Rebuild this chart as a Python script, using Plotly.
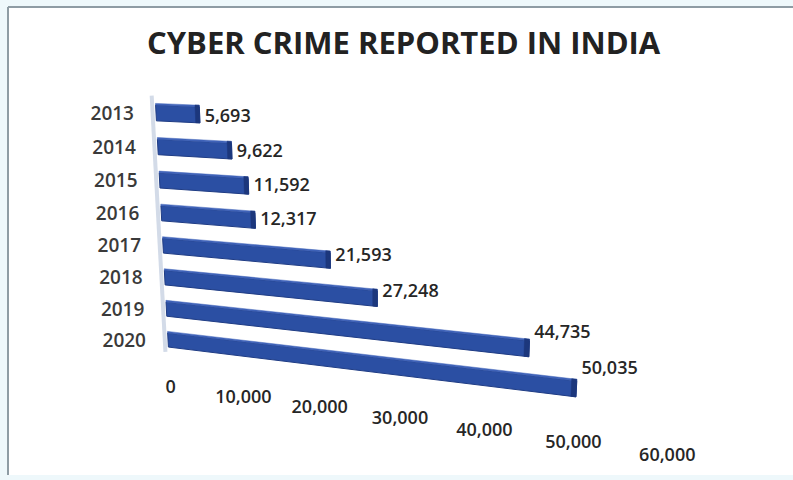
import numpy as np
import plotly.graph_objects as go

# ---------------- data ----------------
years = ["2013", "2014", "2015", "2016", "2017", "2018", "2019", "2020"]
cases = [5693, 9622, 11592, 12317, 21593, 27248, 44735, 50035]
tick_vals = [0, 10000, 20000, 30000, 40000, 50000, 60000]
tick_text = ["0", "10,000", "20,000", "30,000", "40,000", "50,000", "60,000"]
chart_title = "CYBER CRIME REPORTED IN INDIA"

# ---------------- layout / style ----------------
W, H_PX = 793, 480
AXIS_MAX = 60000
# perspective (homography) of the tilted 3-D plot plane:
# (u = value / AXIS_MAX, row index) -> page pixels
PERSP = np.array([[429.8, 3.06, 156.0],
                  [3.07, 35.15, 113.0],
                  [-0.1515, 0.008, 1.0]])
BAR_HALF = 0.23
TOP_FACE = 0.05
TICK_ROW = 8.6
FRONT = "#2b4fa3"
TOPC = "#3f62b8"
CAP = "#1c377c"
EDGE = "#1f3c84"
TXT = "#262626"
FONT = "Open Sans"


def proj(value, row):
    p = PERSP @ np.array([value / AXIS_MAX, row, 1.0])
    return p[0] / p[2], p[1] / p[2]


def quad(v0, v1, r0, r1):
    pts = [proj(v0, r0), proj(v1, r0), proj(v1, r1), proj(v0, r1), proj(v0, r0)]
    return [p[0] for p in pts], [p[1] for p in pts]


fig = go.Figure()

# back wall edge at value 0
wx, wy = zip(proj(-450, -0.5), proj(-450, 7.4))
fig.add_trace(go.Scatter(x=wx, y=wy, mode="lines",
                         line=dict(color="#d3dbe8", width=4),
                         hoverinfo="skip", showlegend=False))

for i, (yr, v) in enumerate(zip(years, cases)):
    # front face
    xs, ys = quad(0, v, i - BAR_HALF, i + BAR_HALF)
    fig.add_trace(go.Scatter(x=xs, y=ys, fill="toself", fillcolor=FRONT,
                             mode="lines", line=dict(color=EDGE, width=1),
                             hoverinfo="skip", showlegend=False))
    # top face
    xs, ys = quad(0, v, i - BAR_HALF - TOP_FACE, i - BAR_HALF)
    fig.add_trace(go.Scatter(x=xs, y=ys, fill="toself", fillcolor=TOPC,
                             mode="lines", line=dict(color=TOPC, width=0.5),
                             hoverinfo="skip", showlegend=False))
    # end cap
    xs, ys = quad(v - 550, v, i - BAR_HALF - TOP_FACE, i + BAR_HALF)
    fig.add_trace(go.Scatter(x=xs, y=ys, fill="toself", fillcolor=CAP,
                             mode="lines", line=dict(color=CAP, width=0.5),
                             hoverinfo="skip", showlegend=False))

# data labels
lx, ly = [], []
for i, v in enumerate(cases):
    x0, y0 = proj(0, i)
    x1, y1 = proj(v, i)
    lx.append(x1 + 5)
    ly.append(y0 + 0.55 * (y1 - y0) + 3)
fig.add_trace(go.Scatter(x=lx, y=ly, mode="text",
                         text=[f"{v:,}" for v in cases],
                         textposition="middle right",
                         textfont=dict(family=FONT, size=18, color=TXT, weight=600),
                         hoverinfo="skip", showlegend=False))

# category labels
cx, cy = [], []
for i in range(len(years)):
    x0, y0 = proj(0, i)
    cx.append(x0 - 22)
    cy.append(y0 + 2)
fig.add_trace(go.Scatter(x=cx, y=cy, mode="text", text=years,
                         textposition="middle left",
                         textfont=dict(family=FONT, size=19, color="#3a3a3a", weight=600),
                         hoverinfo="skip", showlegend=False))

# value-axis tick labels
tx, ty = zip(*[proj(t, TICK_ROW) for t in tick_vals])
fig.add_trace(go.Scatter(x=tx, y=ty, mode="text", text=tick_text,
                         textposition="middle center",
                         textfont=dict(family=FONT, size=18, color=TXT, weight=600),
                         hoverinfo="skip", showlegend=False))

fig.update_layout(
    width=W, height=H_PX,
    margin=dict(l=0, r=0, t=0, b=0),
    paper_bgcolor="#eef8fb",
    plot_bgcolor="rgba(0,0,0,0)",
    xaxis=dict(range=[0, W], visible=False, fixedrange=True),
    yaxis=dict(range=[H_PX, 0], visible=False, fixedrange=True),
    shapes=[
        dict(type="rect", xref="x", yref="y", x0=8, x1=W + 5, y0=7, y1=475,
             fillcolor="white", line=dict(width=0), layer="below"),
        dict(type="line", xref="x", yref="y", x0=8, x1=W + 5, y0=7, y1=7,
             line=dict(color="#8e9ca4", width=2), layer="below"),
        dict(type="line", xref="x", yref="y", x0=8, x1=8, y0=7, y1=475,
             line=dict(color="#8e9ca4", width=2), layer="below"),
    ],
    annotations=[dict(text=chart_title, xref="x", yref="y", x=404, y=42,
                      showarrow=False, xanchor="center", yanchor="middle",
                      font=dict(family=FONT, size=31, color="#222222", weight=700))],
)

fig.write_html("out.html")
